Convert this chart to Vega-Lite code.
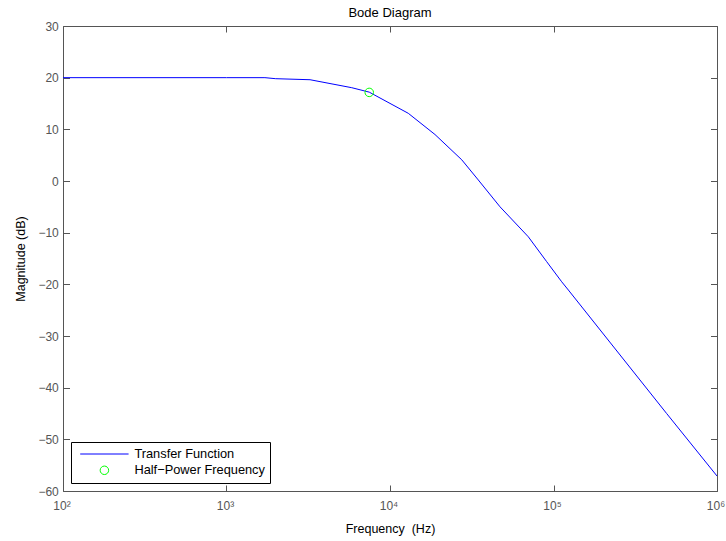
{
  "$schema": "https://vega.github.io/schema/vega-lite/v6.json",
  "width": 654,
  "height": 465,
  "autosize": {"type": "none"},
  "padding": {"left": 63, "top": 26, "right": 9, "bottom": 50},
  "background": "white",
  "title": {"text": "Bode Diagram", "fontSize": 13, "fontWeight": "normal", "font": "Liberation Sans", "color": "black", "offset": 0, "anchor": "middle", "frame": "group"},
  "datasets": {
    "tf": [
      {"f": 100, "db": 20.0, "series": "Transfer Function"},
      {"f": 1000, "db": 20.0, "series": "Transfer Function"},
      {"f": 1718, "db": 20.0, "series": "Transfer Function"},
      {"f": 2000, "db": 19.8, "series": "Transfer Function"},
      {"f": 3243, "db": 19.6, "series": "Transfer Function"},
      {"f": 5834, "db": 18.06, "series": "Transfer Function"},
      {"f": 7464, "db": 17.2, "series": "Transfer Function"},
      {"f": 12940, "db": 13.1, "series": "Transfer Function"},
      {"f": 18840, "db": 9.0, "series": "Transfer Function"},
      {"f": 27480, "db": 4.1, "series": "Transfer Function"},
      {"f": 34670, "db": 0.2, "series": "Transfer Function"},
      {"f": 47100, "db": -5.0, "series": "Transfer Function"},
      {"f": 70150, "db": -10.8, "series": "Transfer Function"},
      {"f": 90780, "db": -15.6, "series": "Transfer Function"},
      {"f": 112200, "db": -19.5, "series": "Transfer Function"},
      {"f": 123300, "db": -21.1, "series": "Transfer Function"},
      {"f": 492000, "db": -45.0, "series": "Transfer Function"},
      {"f": 1000000, "db": -57.1, "series": "Transfer Function"}
    ],
    "hp": [
      {"f": 7464, "db": 17.15, "series": "Half−Power Frequency"}
    ]
  },
  "layer": [
    {
      "data": {"name": "tf"},
      "mark": {"type": "line", "strokeWidth": 1, "clip": true},
      "encoding": {
        "x": {"field": "f", "type": "quantitative",
          "scale": {"type": "log", "domain": [100, 1000000], "nice": false},
          "axis": {"orient": "bottom", "offset": -6, "values": [100, 1000, 10000, 100000, 1000000],
            "labelExpr": "datum.value == 100 ? '10²' : datum.value == 1000 ? '10³' : datum.value == 10000 ? '10⁴' : datum.value == 100000 ? '10⁵' : '10⁶'",
            "tickColor": "#555555", "tickWidth": 1, "tickSize": 6, "labelPadding": 9, "labelOffset": -1.5, "labelOverlap": false, "labelFlush": false,
            "title": "Frequency\u00a0 (Hz)", "titlePadding": 11.5}},
        "y": {"field": "db", "type": "quantitative",
          "scale": {"domain": [-60, 30], "nice": false, "zero": false},
          "axis": {"orient": "left", "offset": -6.5, "values": [-60, -50, -40, -30, -20, -10, 0, 10, 20, 30], "tickColor": "#555555", "tickWidth": 1, "tickSize": 6.5, "labelPadding": 4.7, "labelOverlap": false, "labelFlush": false, "title": "Magnitude (dB)", "titlePadding": 10}},
        "color": {"field": "series", "type": "nominal",
          "scale": {"domain": ["Transfer Function", "Half−Power Frequency"], "range": ["#0000ff", "#00ff00"]},
          "legend": {
            "title": null, "orient": "bottom-left", "offset": 8, "padding": 5,
            "symbolOffset": 22, "labelOffset": 23.6, "rowPadding": 2.3, "clipHeight": 14,
            "strokeColor": "black", "fillColor": "white",
            "labelFont": "Liberation Sans", "labelFontSize": 12.8, "labelColor": "black",
            "encode": {"symbols": {"update": {
              "shape": {"signal": "datum.value === 'Transfer Function' ? 'M-5.7,0L5.7,0' : 'circle'"},
              "size": {"value": 72},
              "stroke": {"signal": "datum.value === 'Transfer Function' ? '#0000ff' : '#00ff00'"},
              "fill": {"value": "transparent"},
              "strokeWidth": {"value": 1},
              "opacity": {"value": 1}
            }}}
          }}
      }
    },
    {
      "data": {"name": "hp"},
      "mark": {"type": "point", "filled": false, "size": 72, "strokeWidth": 1, "opacity": 1},
      "encoding": {
        "x": {"field": "f", "type": "quantitative",
          "axis": {"orient": "top", "offset": -6, "values": [100, 1000, 10000, 100000, 1000000], "labels": false, "tickColor": "#555555", "tickWidth": 1, "tickSize": 6, "title": null}},
        "y": {"field": "db", "type": "quantitative",
          "axis": {"orient": "right", "offset": -6.5, "values": [-60, -50, -40, -30, -20, -10, 0, 10, 20, 30], "labels": false, "tickColor": "#555555", "tickWidth": 1, "tickSize": 6.5, "title": null}},
        "color": {"field": "series", "type": "nominal"}
      }
    }
  ],
  "resolve": {"axis": {"x": "independent", "y": "independent"}},
  "config": {
    "font": "Liberation Sans",
    "view": {"stroke": "#555555", "strokeWidth": 1},
    "axis": {
      "grid": false, "domain": false,
      "labelFont": "Liberation Sans", "labelFontSize": 12, "labelColor": "#555555",
      "titleFont": "Liberation Sans", "titleFontSize": 12.5, "titleFontWeight": "normal", "titleColor": "black"
    }
  }
}
